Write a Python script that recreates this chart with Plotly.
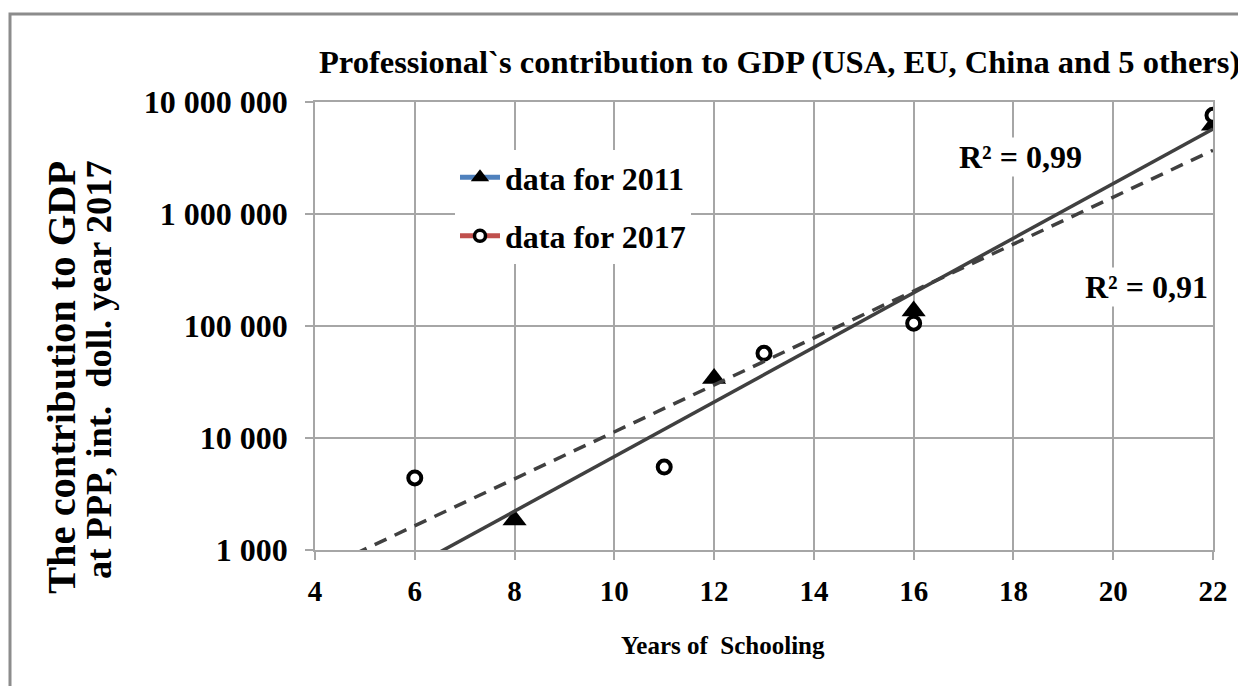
import numpy as np
import plotly.graph_objects as go

# ---- data ----
years_2011 = [8, 12, 16, 22]
gdp_2011 = [1850, 34000, 136000, 6200000]
years_2017 = [6, 11, 13, 16, 22]
gdp_2017 = [4400, 5500, 57000, 106000, 7600000]

x_ticks = [4, 6, 8, 10, 12, 14, 16, 18, 20, 22]
y_tick_vals = [1000, 10000, 100000, 1000000, 10000000]
y_tick_text = ["1 000", "10 000", "100 000", "1 000 000", "10 000 000"]
r2_labels = ["R² = 0,99", "R² = 0,91"]
series_names = ["data for 2011", "data for 2017"]

title_text = "Professional`s contribution to GDP (USA, EU, China and 5 others)"
y_title_lines = ["The contribution to GDP", "at PPP, int.\u00a0 doll. year 2017"]
x_title_text = "Years of\u00a0 Schooling"

# ---- exponential trend lines (least squares on log10) ----
trend_x = np.linspace(4, 22, 60)
c11 = np.polyfit(years_2011, np.log10(gdp_2011), 1)
c17 = np.polyfit(years_2017, np.log10(gdp_2017), 1)
trend_2011 = 10 ** np.polyval(c11, trend_x)
trend_2017 = 10 ** np.polyval(c17, trend_x)

FONT = "Liberation Serif, Times New Roman, serif"
GRID = "#A6A6A6"
LINE = "#404040"

# plot area in page pixels: left 315, right 1213, top 102, bottom 550
PL, PR, PT, PB = 315, 1213, 102, 550
PW, PH = PR - PL, PB - PT


def px(x):
    return (x - PL) / PW


def py(y):
    return (PB - y) / PH


fig = go.Figure()

# data markers
fig.add_trace(go.Scatter(
    x=years_2011, y=gdp_2011, mode="markers", showlegend=False,
    marker=dict(symbol="triangle-up", size=21, color="black"),
))
fig.add_trace(go.Scatter(
    x=years_2017, y=gdp_2017, mode="markers", showlegend=False,
    marker=dict(symbol="circle", size=13, color="white",
                line=dict(color="black", width=4)),
))

# trend lines
fig.add_trace(go.Scatter(
    x=trend_x, y=trend_2011, mode="lines", showlegend=False,
    line=dict(color=LINE, width=3.5),
))
fig.add_trace(go.Scatter(
    x=trend_x, y=trend_2017, mode="lines", showlegend=False,
    line=dict(color=LINE, width=3.5, dash="13px,9px"),
))

# legend entries
fig.add_trace(go.Scatter(
    x=[None], y=[None], mode="lines+markers", name=series_names[0],
    legendgroup="a",
    line=dict(color="#4F81BD", width=5),
    marker=dict(symbol="triangle-up", size=17, color="black"),
))
fig.add_trace(go.Scatter(
    x=[None], y=[None], mode="lines+markers", name=series_names[1],
    legendgroup="b",
    line=dict(color="#C0504D", width=5),
    marker=dict(symbol="circle", size=11, color="white",
                line=dict(color="black", width=3.5)),
))

axis_common = dict(
    showgrid=True, gridcolor=GRID, gridwidth=1.5,
    showline=True, linecolor=GRID, linewidth=1.5, mirror=True,
    ticks="outside", ticklen=8, tickcolor=GRID, tickwidth=1.5,
    zeroline=False,
)

# page body has an 8px margin: compensate so the plot area lands on PL..PR, PT..PB
OFF = 8
fig.update_layout(
    width=1246, height=686,
    margin=dict(l=PL - OFF, r=1246 + OFF - PR, t=PT - OFF, b=686 + OFF - PB),
    paper_bgcolor="white", plot_bgcolor="white",
    font=dict(family=FONT, color="black", size=30, weight="bold"),
    xaxis=dict(range=[4, 22], tickvals=x_ticks,
               tickfont=dict(size=29), ticklabelstandoff=6, **axis_common),
    yaxis=dict(type="log", range=[3, 7], tickvals=y_tick_vals,
               ticktext=y_tick_text, tickfont=dict(size=32),
               ticklabelstandoff=11, **axis_common),
    legend=dict(x=px(455), y=0.893, xanchor="left", yanchor="top",
                bgcolor="white", borderwidth=0,
                font=dict(size=32), tracegroupgap=14,
                traceorder="grouped", itemwidth=40),
    showlegend=True,
)

annotations = [
    dict(text=title_text, x=px(779), y=py(62), xref="paper", yref="paper",
         xanchor="center", yanchor="middle", showarrow=False,
         font=dict(size=32.5)),
    dict(text=x_title_text, x=px(723), y=py(645),
         xref="paper", yref="paper", xanchor="center", yanchor="middle",
         showarrow=False, font=dict(size=25)),
    dict(text=y_title_lines[0], x=px(61), y=py(377),
         xref="paper", yref="paper", xanchor="center", yanchor="middle",
         textangle=-90, showarrow=False, font=dict(size=40.5)),
    dict(text=y_title_lines[1], x=px(98), y=py(370),
         xref="paper", yref="paper", xanchor="center", yanchor="middle",
         textangle=-90, showarrow=False, font=dict(size=36.5)),
    dict(text=r2_labels[0], x=px(1020), y=py(157),
         xref="paper", yref="paper", xanchor="center", yanchor="middle",
         showarrow=False, bgcolor="white", font=dict(size=32)),
    dict(text=r2_labels[1], x=px(1146), y=py(287),
         xref="paper", yref="paper", xanchor="center", yanchor="middle",
         showarrow=False, bgcolor="white", font=dict(size=32)),
]
fig.update_layout(annotations=annotations)

# outer chart frame
fig.add_shape(type="rect", xref="paper", yref="paper",
              x0=px(10), x1=px(1270), y0=py(720), y1=py(14),
              line=dict(color="#8C8C8C", width=3), fillcolor="rgba(0,0,0,0)",
              layer="below")

fig.write_html("out.html")
